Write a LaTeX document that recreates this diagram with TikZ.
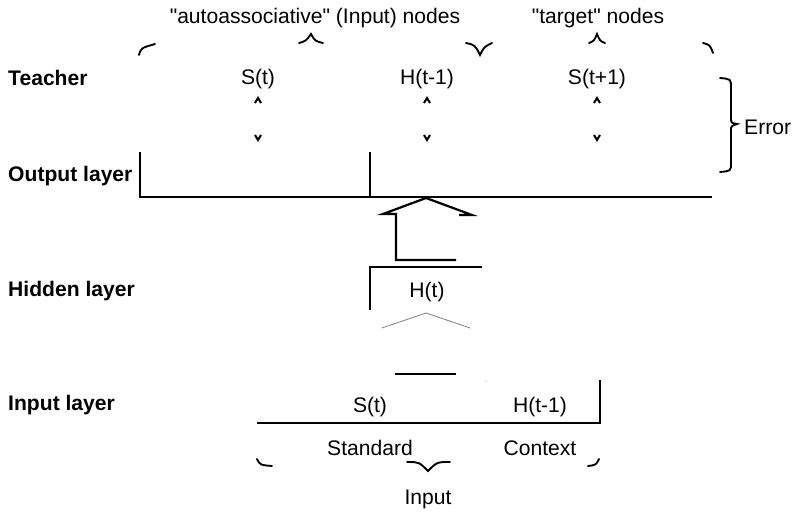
\documentclass[tikz,border=0pt]{standalone}
\usepackage{fontspec}
\setmainfont{Liberation Sans}
\usetikzlibrary{calc}

\tikzset{
  txt/.style={inner sep=0pt, font=\fontsize{18}{21}\selectfont},
  lbl/.style={txt, anchor=west, font=\fontsize{18}{21}\selectfont\bfseries},
  layer/.style={line width=1.9pt},
  brc/.style={line width=1.6pt, line cap=round},
  caret/.style={line width=1.7pt}
}

\begin{document}
\begin{tikzpicture}[x=0.03cm, y=-0.03cm]
  \useasboundingbox (0,0) rectangle (800,517);

  % layer names
  \node[lbl] (teach) at (8,78) {Teacher};
  \node[lbl] (outl) at (8,176) {Output layer};
  \node[lbl] (hidl) at (8,291) {Hidden layer};
  \node[lbl] (inl) at (8,405) {Input layer};

  % top braces
  \node[txt] (auto) at (315,18) {\textquotedbl autoassociative\textquotedbl{} (Input) nodes};
  \node[txt] (targ) at (598,18) {\textquotedbl target\textquotedbl{} nodes};
  \draw[brc] (139,55) .. controls (141,48) .. (155,44);
  \draw[brc] (299,43) .. controls (306,41) .. (311,34) .. controls (315,41) .. (323,43);
  \draw[brc] (466,43) .. controls (475,45) .. (480,55) .. controls (484,47) .. (492,43);
  \draw[brc] (589,43) .. controls (594,41) .. (597,34) .. controls (600,41) .. (605,43);
  \draw[brc] (703,43) .. controls (710,45) .. (713,53);

  % teacher values
  \foreach \n/\x/\t in {tS/258/S(t), tH/427/H(t-1), tN/597/S(t+1)} {
    \node[txt] (\n) at (\x,79) {\t};
    \draw[caret] (\x-3,103) -- (\x,98) -- (\x+3,103);
    \draw[caret] (\x-3,135) -- (\x,140) -- (\x+3,135);
  }

  % error brace
  \draw[brc] (720,78) .. controls (731,79) .. (731,88) -- (731,117)
    .. controls (731,123) .. (737,124) .. controls (731,126) .. (731,131)
    -- (731,163) .. controls (731,171) .. (720,172);
  \node[txt, anchor=west] (err) at (744,127) {Error};

  % output layer
  \draw[layer] (140,152) -- (140,197) -- (712,197);
  \draw[layer] (370,152) -- (370,197);

  % hidden -> output
  \draw[layer, line join=miter] (456,260) -- (396,260) -- (396,214) -- (383,214)
    -- (426,198) -- (472,215) -- (459,215);

  % hidden layer
  \draw[layer] (370,310) -- (370,267) -- (482,267);
  \node[txt] (hH) at (427,292) {H(t)};

  % input -> hidden
  \draw[gray, line width=0.7pt] (382,328) -- (426,313) -- (470,328);
  \draw[layer] (395,374) -- (456,374);
  \fill[gray!60] (486,381) circle (0.6);

  % input layer
  \draw[layer] (257,423) -- (600,423) -- (600,380);
  \node[txt] (iS) at (370,407) {S(t)};
  \node[txt] (iH) at (540,407) {H(t-1)};
  \node[txt] (std) at (370,448) {Standard};
  \node[txt] (ctx) at (540,448) {Context};

  % bottom brace
  \draw[brc] (257,459) .. controls (260,465) .. (272,466);
  \draw[brc] (407,462) .. controls (419,462) .. (428,471) .. controls (437,462) .. (450,462);
  \draw[brc] (588,466) .. controls (596,465) .. (599,459);
  \node[txt] (inp) at (428,499) {Input};
\end{tikzpicture}
\end{document}
